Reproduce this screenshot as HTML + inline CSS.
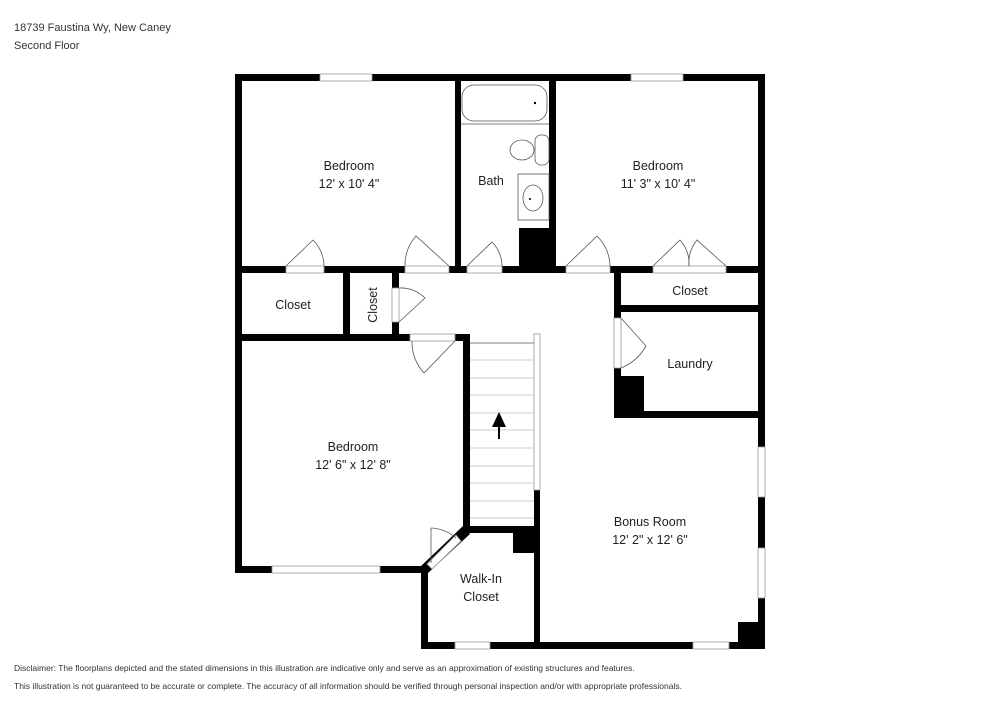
<!DOCTYPE html>
<html><head><meta charset="utf-8"><style>
body{margin:0;background:#fff;width:1000px;height:707px;overflow:hidden;font-family:"Liberation Sans",sans-serif}
svg{position:absolute;left:0;top:0}
</style></head><body>
<svg width="1000" height="707" viewBox="0 0 1000 707" font-family="Liberation Sans, sans-serif">
<g fill="#000">
<rect x="235" y="74" width="530" height="7"/>
<rect x="235" y="74" width="7" height="499"/>
<rect x="758" y="74" width="7" height="575"/>
<rect x="235" y="266" width="530" height="7"/>
<rect x="455" y="74" width="6" height="199"/>
<rect x="549" y="74" width="7" height="199"/>
<rect x="519" y="228" width="37" height="45"/>
<rect x="343" y="273" width="7" height="65"/>
<rect x="392" y="273" width="7" height="65"/>
<rect x="235" y="334" width="235" height="7"/>
<rect x="463" y="334" width="7" height="199"/>
<rect x="235" y="566" width="189" height="7"/>
<rect x="421" y="566" width="7" height="83"/>
<rect x="463" y="526" width="75" height="7"/>
<rect x="513" y="526" width="25" height="27"/>
<rect x="534" y="490" width="6" height="159"/>
<rect x="421" y="642" width="344" height="7"/>
<rect x="614" y="273" width="7" height="145"/>
<rect x="614" y="305" width="151" height="7"/>
<rect x="614" y="411" width="151" height="7"/>
<rect x="614" y="376" width="30" height="42"/>
<rect x="738" y="622" width="27" height="27"/>
<polygon points="421,566 428,573 470,534 463,526"/>
</g>
<polygon points="427,564 432,569 461,541 456,535" fill="#fff" stroke="#999" stroke-width="0.8"/>
<g fill="#fff" stroke="#999" stroke-width="0.8">
<rect x="320" y="74" width="52" height="7"/><rect x="631" y="74" width="52" height="7"/>
<rect x="286" y="266" width="38" height="7"/><rect x="405" y="266" width="44" height="7"/>
<rect x="467" y="266" width="35" height="7"/><rect x="566" y="266" width="44" height="7"/>
<rect x="653" y="266" width="73" height="7"/>
<rect x="392" y="288" width="7" height="34"/>
<rect x="410" y="334" width="45" height="7"/>
<rect x="272" y="566" width="108" height="7"/>
<rect x="455" y="642" width="35" height="7"/><rect x="693" y="642" width="36" height="7"/>
<rect x="758" y="447" width="7" height="50"/><rect x="758" y="548" width="7" height="50"/>
<rect x="614" y="318" width="7" height="50"/>
<rect x="534" y="334" width="6" height="156"/>
</g>
<g fill="none" stroke="#555" stroke-width="0.8">
<path d="M286,266 L313,240 A38,38 0 0 1 324,266"/>
<path d="M405,266 A44,44 0 0 1 416,236 L449,266"/>
<path d="M467,266 L492,242 A35,35 0 0 1 502,266"/>
<path d="M566,266 L597,236 A44,44 0 0 1 610,266"/>
<path d="M653,266 L680,240 A36,36 0 0 1 689,266 M689,266 A36,36 0 0 1 697,240 L726,266"/>
<path d="M399,288 A34,34 0 0 1 425,298 L399,322"/>
<path d="M412,341 A45,45 0 0 0 424,373 L455,341"/>
<path d="M621,318 L646,346 A50,50 0 0 1 621,368"/>
<path d="M431,528 A40,40 0 0 1 456,538"/>
<line x1="431" y1="528" x2="431" y2="563"/>
<rect x="462" y="85" width="85" height="36" rx="12"/>
<line x1="461" y1="124" x2="549" y2="124"/>
<ellipse cx="522" cy="150" rx="12" ry="10"/>
<rect x="535" y="135" width="14" height="30" rx="6"/>
<rect x="518" y="174" width="31" height="46"/>
<ellipse cx="533" cy="198" rx="10" ry="13"/>
<line x1="470" y1="343" x2="534" y2="343"/>
</g>
<g stroke="#bbb" stroke-width="0.8">
<line x1="470" y1="360" x2="534" y2="360"/><line x1="470" y1="378" x2="534" y2="378"/>
<line x1="470" y1="395" x2="534" y2="395"/><line x1="470" y1="413" x2="534" y2="413"/>
<line x1="470" y1="430" x2="534" y2="430"/><line x1="470" y1="448" x2="534" y2="448"/>
<line x1="470" y1="466" x2="534" y2="466"/><line x1="470" y1="483" x2="534" y2="483"/>
<line x1="470" y1="501" x2="534" y2="501"/><line x1="470" y1="518" x2="534" y2="518"/>
</g>
<polygon points="499,412 492,427 506,427" fill="#000"/>
<rect x="498" y="425" width="2" height="14" fill="#000"/>
<circle cx="535" cy="103" r="1.2"/><circle cx="530" cy="199" r="1"/>
<g font-size="12.5" fill="#222" text-anchor="middle">
<text x="349" y="170">Bedroom</text><text x="349" y="188">12' x 10' 4"</text>
<text x="491" y="185">Bath</text>
<text x="658" y="170">Bedroom</text><text x="658" y="188">11' 3" x 10' 4"</text>
<text x="293" y="309">Closet</text>
<text x="690" y="295">Closet</text>
<text x="690" y="368">Laundry</text>
<text x="353" y="451">Bedroom</text><text x="353" y="469">12' 6" x 12' 8"</text>
<text x="650" y="526">Bonus Room</text><text x="650" y="544">12' 2" x 12' 6"</text>
<text x="481" y="583">Walk-In</text><text x="481" y="601">Closet</text>
<text transform="translate(377,305) rotate(-90)">Closet</text>
</g>
<g font-size="11" fill="#333">
<text x="14" y="31">18739 Faustina Wy, New Caney</text>
<text x="14" y="49">Second Floor</text>
</g>
<g font-size="8.5" fill="#333">
<text x="14" y="671">Disclaimer: The floorplans depicted and the stated dimensions in this illustration are indicative only and serve as an approximation of existing structures and features.</text>
<text x="14" y="689">This illustration is not guaranteed to be accurate or complete. The accuracy of all information should be verified through personal inspection and/or with appropriate professionals.</text>
</g>
</svg>
</body></html>
